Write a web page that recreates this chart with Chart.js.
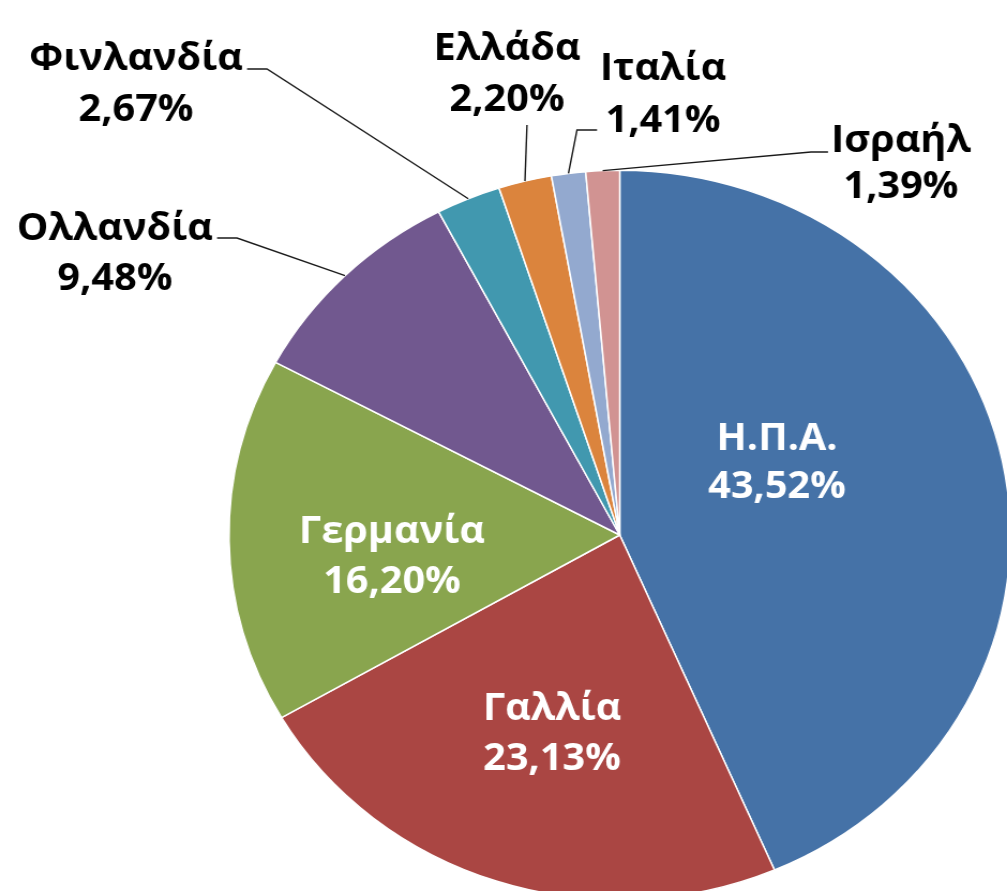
<!DOCTYPE html>
<html>
<head>
<meta charset="utf-8">
<script src="https://cdn.jsdelivr.net/npm/chart.js@4"></script>
<style>
    html, body { margin: 0; padding: 0; background: #ffffff; overflow: hidden; }
    /* the original picture is stretched a little wider than tall */
    #wrap { width: 960px; height: 960px; transform: scaleX(1.0713); transform-origin: 0 0; }
</style>
</head>
<body>
<div id="wrap"><canvas id="pieChart"></canvas></div>
<script>
// Data
const countries = ['Η.Π.Α.', 'Γαλλία', 'Γερμανία', 'Ολλανδία', 'Φινλανδία', 'Ελλάδα', 'Ιταλία', 'Ισραήλ'];
const shares = [43.52, 23.13, 16.20, 9.48, 2.67, 2.20, 1.41, 1.39];
const sliceColors = ['#4572A7', '#AA4643', '#89A54E', '#71588F', '#4198AF', '#DB843D', '#93A9CF', '#D19392'];

// Label placement relative to pie centre (dx, first/second baseline, leader elbow points)
const labelLayout = [
    { inside: true,  dx: 146.8,  b1: -85,  b2: -37 },
    { inside: true,  dx: -63.2,  b1: 185,  b2: 235 },
    { inside: true,  dx: -212.6, b1: 8,    b2: 58 },
    { inside: false, dx: -471.2, b1: -295, b2: -245, elbow: [[-375.9, -297], [-357.3, -297]] },
    { inside: false, dx: -451.5, b1: -465, b2: -414, elbow: [[-347.9, -466], [-329.3, -466]] },
    { inside: false, dx: -105.2, b1: -475, b2: -424, elbow: [[-86.6, -410]] },
    { inside: false, dx: 40.4,   b1: -455, b2: -403, elbow: [[-21.2, -405], [-39.9, -405]] },
    { inside: false, dx: 262.5,  b1: -383, b2: -337, elbow: [[194.4, -383], [178.5, -383]] }
];

function formatPct(v) {
    const total = shares.reduce((a, b) => a + b, 0);
    return (v / total * 100).toFixed(2).replace('.', ',') + '%';
}

const sliceLabels = {
    id: 'sliceLabels',
    afterDatasetsDraw(chart) {
        const ctx = chart.ctx;
        const meta = chart.getDatasetMeta(0);
        ctx.save();
        ctx.font = 'bold 37px "Open Sans"';
        ctx.textAlign = 'center';
        ctx.textBaseline = 'alphabetic';
        meta.data.forEach((arc, i) => {
            const p = arc.getProps(['x', 'y', 'startAngle', 'endAngle', 'outerRadius'], true);
            const lay = labelLayout[i];
            const tx = p.x + lay.dx;

            if (!lay.inside) {
                // leader line from the slice edge to the label
                const mid = (p.startAngle + p.endAngle) / 2;
                const ex = p.x + Math.cos(mid) * p.outerRadius;
                const ey = p.y + Math.sin(mid) * p.outerRadius;
                ctx.beginPath();
                ctx.moveTo(ex, ey);
                lay.elbow.slice().reverse().forEach(pt => ctx.lineTo(p.x + pt[0], p.y + pt[1]));
                ctx.strokeStyle = '#1a1a1a';
                ctx.lineWidth = 1.4;
                ctx.stroke();
            }

            ctx.fillStyle = lay.inside ? '#ffffff' : '#000000';
            ctx.fillText(countries[i], tx, p.y + lay.b1);
            ctx.fillText(formatPct(shares[i]), tx, p.y + lay.b2);
        });
        ctx.restore();
    }
};

const ctx = document.getElementById('pieChart').getContext('2d');
const pieChart = new Chart(ctx, {
    type: 'pie',
    data: {
        labels: countries,
        datasets: [{
            data: shares,
            backgroundColor: sliceColors,
            borderColor: '#ffffff',
            borderWidth: 1.5
        }]
    },
    options: {
        responsive: true,
        maintainAspectRatio: false,
        animation: false,
        layout: { padding: { top: 169, left: 213, right: 16, bottom: 59 } },
        plugins: {
            legend: { display: false },
            tooltip: { enabled: false }
        }
    },
    plugins: [sliceLabels]
});
</script>
</body>
</html>
